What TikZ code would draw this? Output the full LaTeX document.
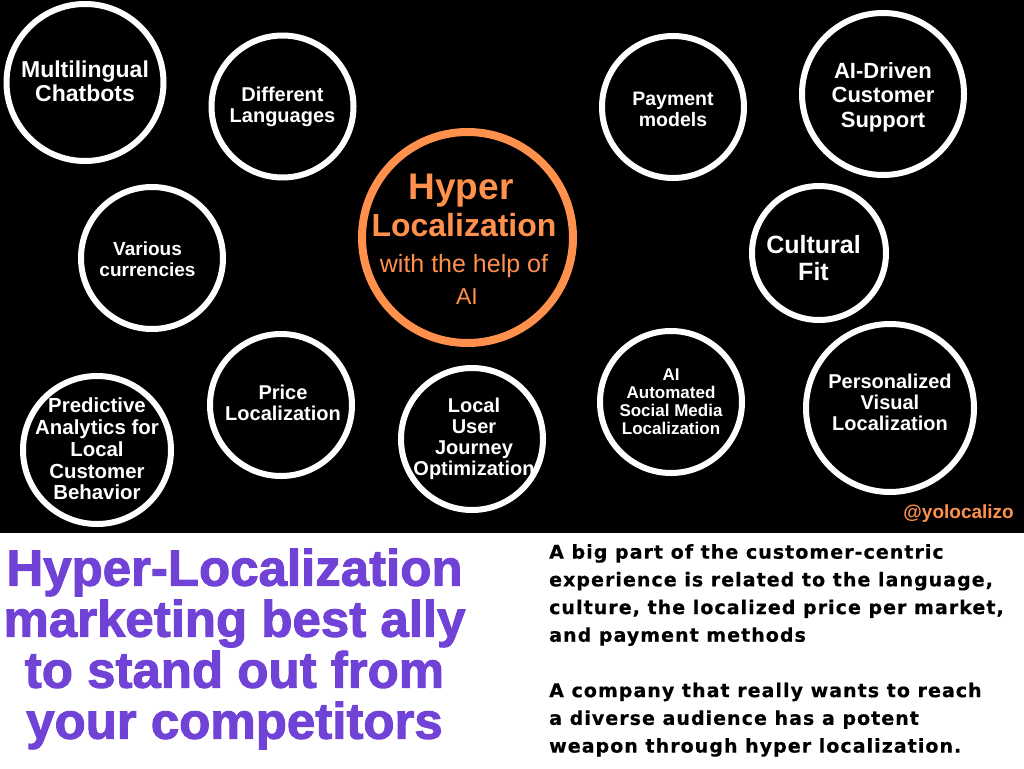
\documentclass[tikz,border=0pt]{standalone}
\usepackage{fontspec}
\setmainfont{Liberation Sans}
\newfontfamily\headfont[FakeBold=2]{Liberation Sans Bold}
\newfontfamily\bodyfont[LetterSpace=5.5,FakeBold=0.5]{DejaVu Sans Bold}
\usetikzlibrary{positioning}
\definecolor{hubcol}{HTML}{FF914D}
\definecolor{headcol}{HTML}{7043D6}
\tikzset{
    %Define style for the rings
    ring/.style={
      circle,
      draw=white,
      line width=6pt,
      inner sep=0pt},
    %Define style for the text in the rings
    ringtext/.style={
      text=white,
      align=center,
      inner sep=0pt,
      font=\bfseries\fontsize{19}{21}\selectfont},
    % Define style for the two lower columns
    head/.style={
      text=headcol,
      align=center,
      inner sep=0pt,
      font=\headfont\fontsize{51}{51}\selectfont},
    body/.style={
      text=black,
      align=left,
      inner sep=0pt,
      font=\bodyfont\fontsize{19}{27.7}\selectfont}
}
\begin{document}
\begin{tikzpicture}[x=1pt, y=1pt, on grid]
    \useasboundingbox (0,0) rectangle (1024,-768);
    \fill[black] (0,0) rectangle (1024,-533);

    \node[circle, draw=hubcol, line width=8pt, inner sep=0pt, minimum size=211pt] (hub) at (467.5,-237.5) {};
    \node[text=hubcol, inner sep=0pt, font=\bfseries\fontsize{37}{37}\selectfont] (hubtop) at (461,-191) {Hyper};
    \node[below=34pt of hubtop, xshift=3pt, text=hubcol, inner sep=0pt, font=\bfseries\fontsize{32}{32}\selectfont] (hubname) {Localization};
    \node[below=41pt of hubname, text=hubcol, inner sep=0pt, font=\fontsize{25}{25}\selectfont] (hubsub) {with the help of};
    \node[below=31pt of hubsub, xshift=3pt, text=hubcol, inner sep=0pt, font=\fontsize{23}{23}\selectfont] (hubai) {AI};

    \node[ring, above left=155pt and 382.5pt of hub, minimum size=157pt] (chat) {};
    \node[ringtext, font=\bfseries\fontsize{23}{24}\selectfont, yshift=1pt] (chattext) at (chat) {Multilingual\\Chatbots};
    \node[ring, above left=131pt and 185pt of hub, minimum size=142pt] (lang) {};
    \node[ringtext, font=\bfseries\fontsize{20}{21}\selectfont] (langtext) at (lang) {Different\\Languages};
    \node[ring, below left=20.5pt and 315.5pt of hub, minimum size=142pt] (curr) {};
    \node[ringtext, xshift=-4.5pt, yshift=-1pt] (currtext) at (curr) {Various\\currencies};
    \node[ring, below left=167.5pt and 186.5pt of hub, minimum size=142pt] (price) {};
    \node[ringtext, font=\bfseries\fontsize{20}{21}\selectfont, xshift=2pt, yshift=2pt] (pricetext) at (price) {Price\\Localization};
    \node[ring, below left=212.5pt and 370.5pt of hub, minimum size=148pt] (pred) {};
    \node[ringtext, font=\bfseries\fontsize{20.4}{21.8}\selectfont, yshift=1pt] (predtext) at (pred) {Predictive\\Analytics for\\Local\\Customer\\Behavior};
    \node[ring, below right=201.5pt and 4.5pt of hub, minimum size=142pt] (journey) {};
    \node[ringtext, font=\bfseries\fontsize{20}{21}\selectfont, xshift=2pt] (journeytext) at (journey) {Local\\User\\Journey\\Optimization};

    \node[ring, above right=130.5pt and 205.5pt of hub, minimum size=142pt] (pay) {};
    \node[ringtext, font=\bfseries\fontsize{19.5}{21}\selectfont, yshift=-2pt] (paytext) at (pay) {Payment\\models};
    \node[ring, above right=143.5pt and 415.5pt of hub, minimum size=162pt] (support) {};
    \node[ringtext, font=\bfseries\fontsize{22}{24.5}\selectfont, yshift=-3pt] (supporttext) at (support) {AI-Driven\\Customer\\Support};
    \node[ring, below right=15.5pt and 351.5pt of hub, minimum size=134pt] (fit) {};
    \node[ringtext, font=\bfseries\fontsize{25}{27}\selectfont, xshift=-5.5pt, yshift=-5pt] (fittext) at (fit) {Cultural\\Fit};
    \node[ring, below right=164.5pt and 203.5pt of hub, minimum size=142pt] (social) {};
    \node[ringtext, font=\bfseries\fontsize{17}{18}\selectfont] (socialtext) at (social) {AI\\Automated\\Social Media\\Localization};
    \node[ring, below right=170.5pt and 422.5pt of hub, minimum size=168pt] (visual) {};
    \node[ringtext, font=\bfseries\fontsize{20}{21}\selectfont, yshift=6pt] (visualtext) at (visual) {Personalized\\Visual\\Localization};

    \node[text=hubcol, anchor=east, inner sep=0pt, font=\bfseries\fontsize{19}{20}\selectfont] (handle) at (1014,-514) {@yolocalizo};

    \node[head] (headline) at (234.5,-649) {Hyper-Localization\\marketing best ally\\to stand out from\\your competitors};
    \node[body, anchor=north west] (para) at (549,-544) {A big part of the customer-centric\\experience is related to the language,\\culture, the localized price per market,\\and payment methods\\[27.7pt]A company that really wants to reach\\a diverse audience has a potent\\weapon through hyper localization.};
\end{tikzpicture}
\end{document}
